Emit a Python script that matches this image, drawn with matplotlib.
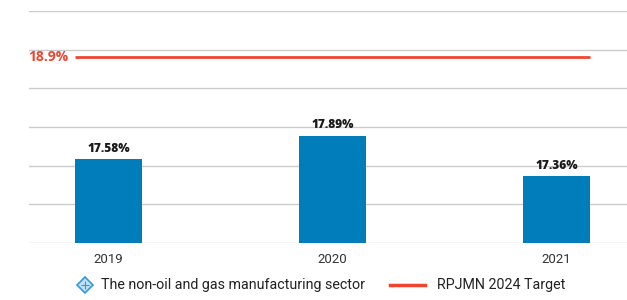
import matplotlib.pyplot as plt
from matplotlib.lines import Line2D

# dados
anos = ['2019', '2020', '2021']
valores = [17.58, 17.89, 17.36]
meta = 18.9
rotulo_barra = 'The non-oil and gas manufacturing sector'
rotulo_meta = 'RPJMN 2024 Target'

azul = '#007DBA'
vermelho = '#EE4530'

W, H = 627, 300
fig = plt.figure(figsize=(W / 100, H / 100), dpi=100)
ax = fig.add_axes([29 / W, 57 / H, 598 / W, 232 / H])

x = list(range(len(anos)))
ax.bar(x, valores, width=0.3, color=azul, zorder=3)

# rótulos das barras
for xi, v in zip(x, valores):
    ax.annotate(f'{v:.2f}%', (xi, v), xytext=(0, 3.5), textcoords='offset points',
                ha='center', va='bottom', fontsize=8.6, fontweight='heavy',
                family='Open Sans', color='#1a1a1a')

# linha da meta
ax.plot([x[0] - 0.15, x[-1] + 0.15], [meta, meta], color=vermelho, lw=2, zorder=4,
        solid_capstyle='butt')
ax.annotate(f'{meta}%', (x[0] - 0.15, meta), xytext=(-5, 0), textcoords='offset points',
            ha='right', va='center', fontsize=10, fontweight='bold', family='Open Sans',
            color=vermelho)

ax.set_ylim(16.5, 19.5)
ax.set_xlim(-0.355, 2.315)
ax.set_yticks([16.5 + 0.5 * i for i in range(7)])
ax.set_yticklabels([])
ax.set_xticks(x)
ax.set_xticklabels(anos, family='Roboto', fontsize=9.5, color='#333333')
ax.tick_params(axis='y', length=0)
ax.tick_params(axis='x', length=0, pad=7)
ax.grid(axis='y', color='#cccccc', lw=1, zorder=0)
ax.set_axisbelow(True)
for s in ax.spines.values():
    s.set_visible(False)

# legenda (desenhada à mão)
yl = 1 - 285 / H
fig.add_artist(Line2D([85 / W], [yl], marker='D', ls='none', markersize=8,
                      markerfacecolor='#bfe0f5', markeredgecolor='#3399dd',
                      markeredgewidth=1.2, transform=fig.transFigure))
fig.add_artist(Line2D([85 / W], [yl], marker='+', ls='none', markersize=6,
                      markeredgecolor='#3399dd', markeredgewidth=0.8,
                      transform=fig.transFigure))
fig.text(101 / W, yl, rotulo_barra, family='Roboto', fontsize=10.3, color='#222222',
         va='center', ha='left')
fig.add_artist(Line2D([390 / W, 425 / W], [yl, yl], color=vermelho, lw=2.5,
                      transform=fig.transFigure))
fig.text(437 / W, yl, rotulo_meta, family='Roboto', fontsize=10.3, color='#222222',
         va='center', ha='left')

fig.savefig('out.png', dpi=100)
